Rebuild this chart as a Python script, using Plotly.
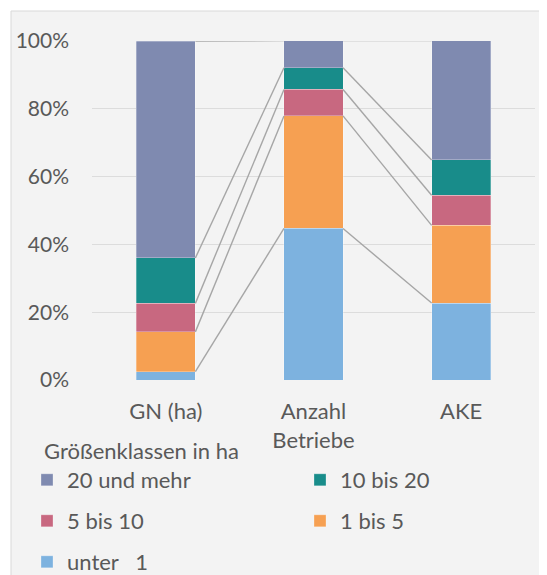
import plotly.graph_objects as go

categories = ["GN (ha)", "Anzahl<br>Betriebe", "AKE"]
series_names = ["unter   1", "1 bis 5", "5 bis 10", "10 bis 20", "20 und mehr"]
unter_1 = [2.5, 44.7, 22.7]
bis_5 = [11.7, 33.2, 22.9]
bis_10 = [8.4, 7.8, 8.9]
bis_20 = [13.4, 6.4, 10.4]
ueber_20 = [64.0, 8.0, 35.2]
colors = ["#7DB2DF", "#F6A052", "#C86880", "#188C8A", "#7F8AB0"]
values = [unter_1, bis_5, bis_10, bis_20, ueber_20]
legend_title = "Größenklassen in ha"

# page has an 8px body margin; work in figure pixel coordinates
OFF = 8
W, H = 547 - OFF, 575 - OFF
ML, MR, MT, MB = 84, 12, 33, 195
PW, PH = W - ML - MR, H - MT - MB

def px_x(px):
    return (px - ML) / PW

def px_y(py):
    return (H - MB - py) / PH

# legend slots (reference pixel positions of each entry's left edge and row centre)
legend_slots = {
    "20 und mehr": ("legend", 27, 480),
    "10 bis 20": ("legend2", 300, 480),
    "5 bis 10": ("legend3", 27, 521),
    "1 bis 5": ("legend4", 300, 521),
    "unter   1": ("legend5", 27, 562),
}

x = [0, 1, 2]
half = 0.2
fig = go.Figure()

for name, vals, col in zip(series_names, values, colors):
    fig.add_trace(go.Bar(
        x=x, y=[v / 100 for v in vals], name=name, width=2 * half,
        marker=dict(color=col, line=dict(color="rgba(255,255,255,0.35)", width=0.8)),
        legend=legend_slots[name][0]))

# series lines connecting stacked boundaries
cum = [0, 0, 0]
for vals in values:
    cum = [c + v / 100 for c, v in zip(cum, vals)]
    for i in range(len(x) - 1):
        fig.add_trace(go.Scatter(
            x=[x[i] + half, x[i + 1] - half], y=[cum[i], cum[i + 1]],
            mode="lines", line=dict(color="#A6A6A6", width=1.4),
            showlegend=False, hoverinfo="skip"))

font_col = "#595959"
fnt = "Lato"
FS = 22

legends = {}
for name, (lid, lx, ly) in legend_slots.items():
    legends[lid] = dict(
        orientation="v", xref="container", yref="container",
        x=(lx - OFF) / W, y=1 - (ly - OFF) / H, xanchor="left", yanchor="middle",
        bgcolor="rgba(0,0,0,0)", borderwidth=0,
        font=dict(family=fnt, size=FS, color=font_col))

fig.update_layout(
    width=W, height=H,
    margin=dict(l=ML, r=MR, t=MT, b=MB, autoexpand=False),
    barmode="stack",
    paper_bgcolor="white",
    plot_bgcolor="rgba(0,0,0,0)",
    font=dict(family=fnt, size=FS, color=font_col),
    xaxis=dict(range=[-0.5, 2.5], tickvals=x, ticktext=categories,
               showgrid=False, zeroline=False, showline=False,
               ticklabelstandoff=16, tickfont=dict(size=FS, color=font_col)),
    yaxis=dict(range=[0, 1], tickvals=[0, 0.2, 0.4, 0.6, 0.8, 1.0],
               tickformat=".0%", showgrid=True, gridcolor="#DCDCDC", gridwidth=1.2,
               zeroline=False, showline=False, ticklabelstandoff=22,
               tickfont=dict(size=21, color=font_col)),
    annotations=[dict(text=legend_title, xref="paper", yref="paper",
                      x=px_x(42 - OFF), y=px_y(450 - OFF), xanchor="left", yanchor="middle",
                      showarrow=False, font=dict(family=fnt, size=FS, color=font_col))],
    shapes=[dict(type="rect", xref="paper", yref="paper",
                 x0=px_x(11 - OFF), x1=px_x(W + 10), y0=px_y(H + 10), y1=px_y(11 - OFF),
                 fillcolor="#F3F3F3", line=dict(color="#D9D9D9", width=1), layer="below")],
    **legends,
)

fig.write_html("out.html")
